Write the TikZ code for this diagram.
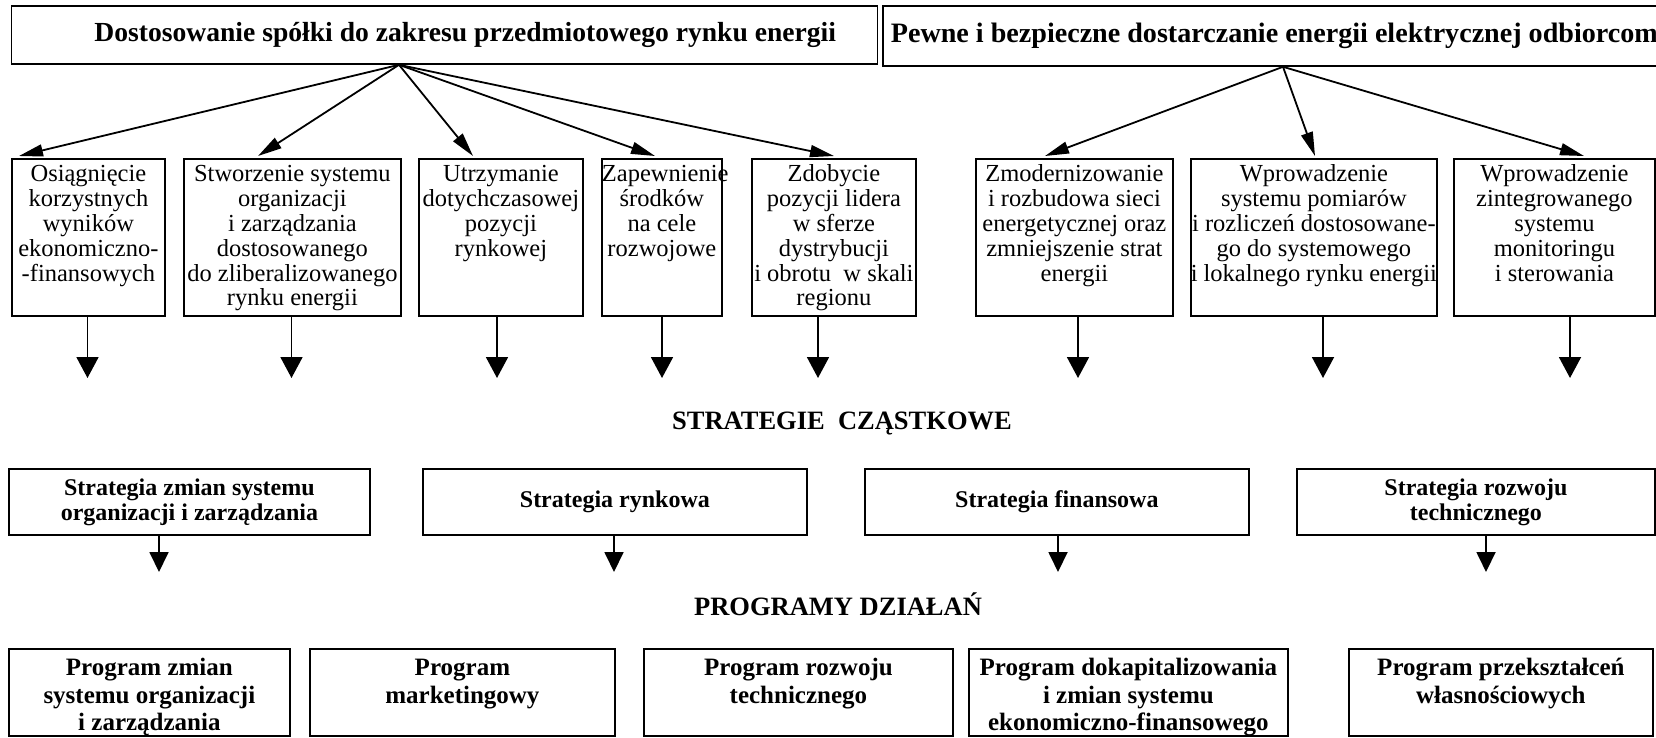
\documentclass[tikz,border=0pt]{standalone}
\usepackage{fontspec}
\setmainfont{Liberation Serif}
\usetikzlibrary{arrows.meta}

\newcommand\titlefont{\bfseries\fontsize{27.6}{30}\selectfont}
\newcommand\titlefontb{\bfseries\fontsize{28.1}{30}\selectfont}
\newcommand\goalfont{\fontsize{24.5}{24.8}\selectfont}
\newcommand\stratfont{\bfseries\fontsize{24}{25}\selectfont}
\newcommand\progfont{\bfseries\fontsize{25}{27.5}\selectfont}
\newcommand\headfont{\bfseries\fontsize{26.5}{28}\selectfont}
% fixed-size box, text hung from the top (width, height, first-line height, text)
\newcommand\hangtext[4]{\parbox[c][#2][t]{#1}{\centering\rule{0pt}{#3}#4\par}}
% fixed-size box, text centred vertically (width, height, text)
\newcommand\midtext[3]{\parbox[c][#2][c]{#1}{\centering #3\par}}

\begin{document}
\begin{tikzpicture}[x=1pt,y=-1pt,
  frame/.style={draw, line width=1.8pt, inner sep=0pt, anchor=north west},
  fan/.style={line width=1.8pt, -{Triangle[length=24pt,width=12pt]}},
  drop/.style={line width=1.8pt, -{Triangle[length=21pt,width=22pt]}},
  lead/.style={line width=1.8pt, -{Triangle[length=20pt,width=19pt]}}]
\useasboundingbox (0,0) rectangle (1656,737);
\clip (0,0) rectangle (1656,737);

% main goals
\node[frame, minimum height=58pt, font=\titlefont] (t1) at (10.5,5)
  {\makebox[866pt][l]{\hspace{83pt}Dostosowanie spółki do zakresu przedmiotowego rynku energii}};
\node[frame, minimum height=60pt, font=\titlefontb] (t2) at (882,5)
  {\makebox[790pt][l]{\hspace{8pt}Pewne i bezpieczne dostarczanie energii elektrycznej odbiorcom}};

% detailed goals
\node[frame, font=\goalfont] (g1) at (11,158)
  {\hangtext{153pt}{157pt}{23pt}{Osiągnięcie\\korzystnych\\wyników\\ekonomiczno-\\-finansowych}};
\node[frame, font=\goalfont] (g2) at (183,158)
  {\hangtext{217pt}{157pt}{23pt}{Stworzenie systemu\\organizacji\\i zarządzania\\dostosowanego\\do zliberalizowanego\\rynku energii}};
\node[frame, font=\goalfont] (g3) at (418,158)
  {\hangtext{164pt}{157pt}{23pt}{Utrzymanie\\dotychczasowej\\pozycji\\rynkowej}};
\node[frame, font=\goalfont] (g4) at (601,158)
  {\hangtext{120pt}{157pt}{23pt}{Zapewnienie\\środków\\na cele\\rozwojowe}};
\node[frame, font=\goalfont] (g5) at (751,158)
  {\hangtext{164pt}{157pt}{23pt}{Zdobycie\\pozycji lidera\\w sferze\\dystrybucji\\i obrotu\ \ w skali\\regionu}};
\node[frame, font=\goalfont] (g6) at (975,158)
  {\hangtext{197pt}{157pt}{23pt}{Zmodernizowanie\\i rozbudowa sieci\\energetycznej oraz\\zmniejszenie strat\\energii}};
\node[frame, font=\goalfont] (g7) at (1190,158)
  {\hangtext{246pt}{157pt}{23pt}{Wprowadzenie\\systemu pomiarów\\i rozliczeń dostosowane-\\go do systemowego\\i lokalnego rynku energii}};
\node[frame, font=\goalfont] (g8) at (1453,158)
  {\hangtext{201pt}{157pt}{23pt}{Wprowadzenie\\zintegrowanego\\systemu\\monitoringu\\i sterowania}};

% fan-out from the main goals
\coordinate (f1) at (399,63);
\coordinate (a1) at (19,156);
\coordinate (a2) at (258,156);
\coordinate (a3) at (473,156);
\coordinate (a4) at (655,156);
\coordinate (a5) at (834,156);
\foreach \k in {a1,a2,a3,a4,a5} \draw[fan] (t1.south -| f1) -- (\k);
\coordinate (f2) at (1283,65);
\coordinate (b1) at (1045,156);
\coordinate (b2) at (1315,156);
\coordinate (b3) at (1584,156);
\foreach \k in {b1,b2,b3} \draw[fan] (t2.south -| f2) -- (\k);

% arrows down from the detailed goals
\coordinate (d1) at (87.5,378);
\coordinate (d2) at (291.5,378);
\coordinate (d3) at (497,378);
\coordinate (d4) at (662,378);
\coordinate (d5) at (818,378);
\coordinate (d6) at (1078,378);
\coordinate (d7) at (1323,378);
\coordinate (d8) at (1570,378);
\foreach \n in {1,...,8} \draw[drop] (g\n.south -| d\n) -- (d\n);

\node[font=\headfont] (h1) at (842,423) {STRATEGIE\ \ CZĄSTKOWE};

% partial strategies
\node[frame, font=\stratfont] (st1) at (8,468)
  {\midtext{361pt}{66pt}{Strategia zmian systemu\\organizacji i zarządzania}};
\node[frame, font=\stratfont] (st2) at (422,468)
  {\midtext{384pt}{66pt}{Strategia rynkowa}};
\node[frame, font=\stratfont] (st3) at (864,468)
  {\midtext{384pt}{66pt}{Strategia finansowa}};
\node[frame, font=\stratfont] (st4) at (1296,468)
  {\midtext{358pt}{66pt}{Strategia rozwoju\\technicznego}};

\coordinate (e1) at (159,572);
\coordinate (e2) at (614,572);
\coordinate (e3) at (1058,572);
\coordinate (e4) at (1486,572);
\foreach \n in {1,...,4} \draw[lead] (st\n.south -| e\n) -- (e\n);

\node[font=\headfont] (h2) at (838,604) {PROGRAMY DZIAŁAŃ};

% action programmes
\node[frame, font=\progfont] (p1) at (8,648)
  {\hangtext{281pt}{87pt}{27pt}{Program zmian\\systemu organizacji\\i zarządzania}};
\node[frame, font=\progfont] (p2) at (309,648)
  {\hangtext{305pt}{87pt}{27pt}{Program\\marketingowy}};
\node[frame, font=\progfont] (p3) at (643,648)
  {\hangtext{309pt}{87pt}{27pt}{Program rozwoju\\technicznego}};
\node[frame, font=\progfont] (p4) at (968,648)
  {\hangtext{319pt}{87pt}{27pt}{Program dokapitalizowania\\i zmian systemu\\ekonomiczno-finansowego}};
\node[frame, font=\progfont] (p5) at (1348,648)
  {\hangtext{304pt}{87pt}{27pt}{Program przekształceń\\własnościowych}};
\end{tikzpicture}
\end{document}
